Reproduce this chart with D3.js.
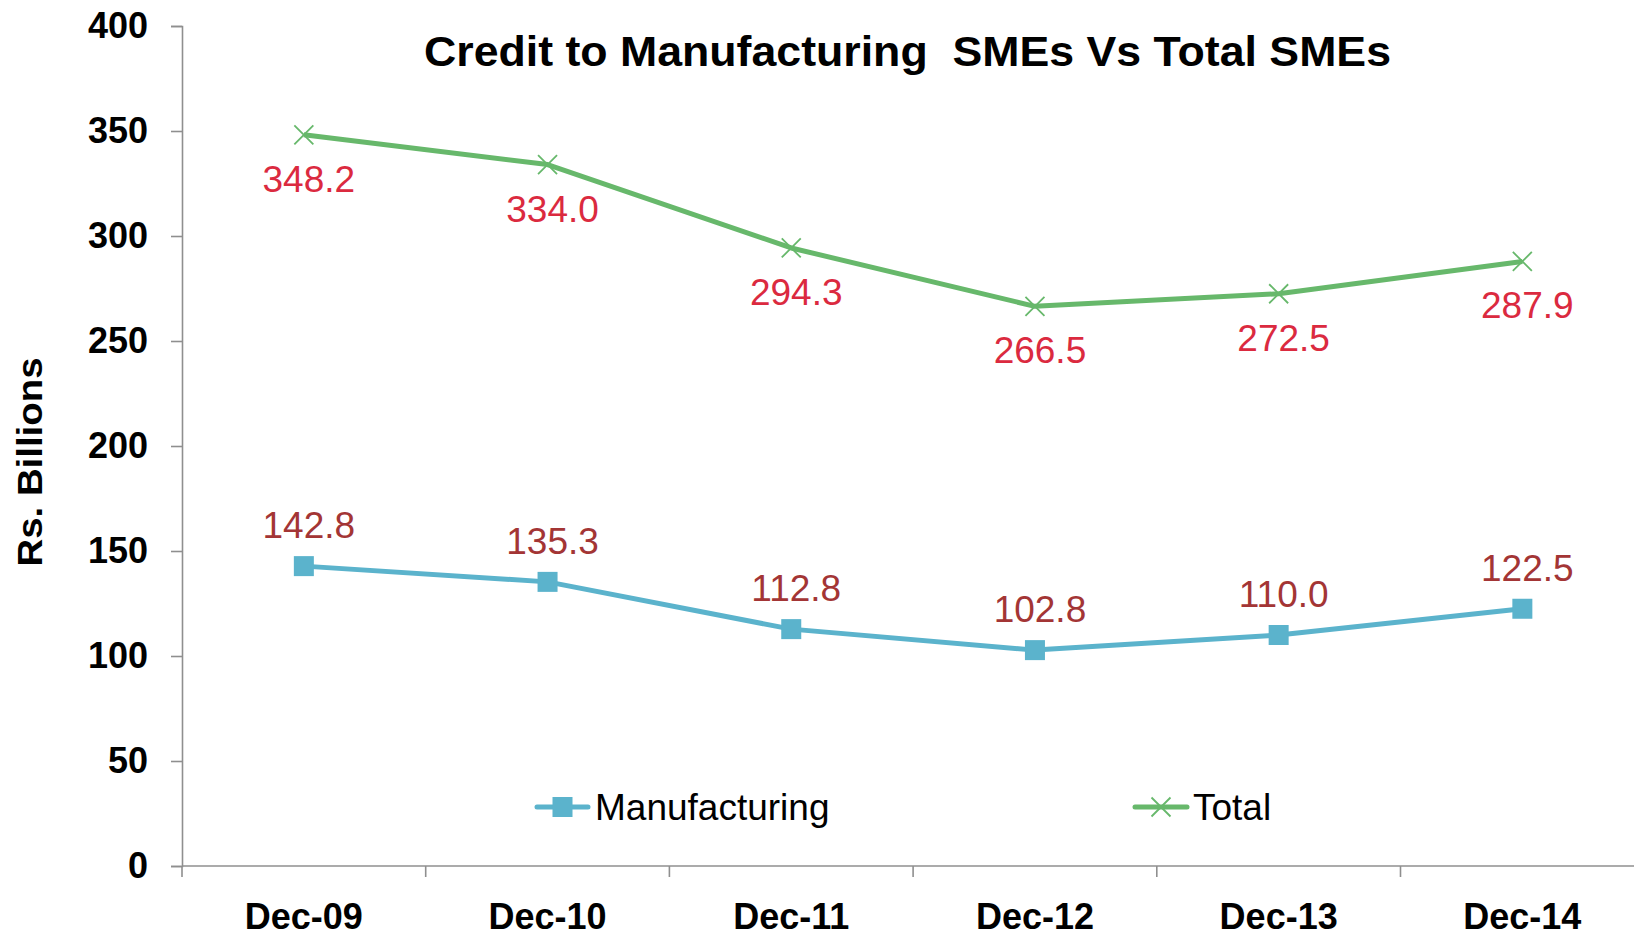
<!DOCTYPE html>
<html>
<head>
<meta charset="utf-8">
<script src="https://cdn.jsdelivr.net/npm/d3@7"></script>
<style>
  html, body { margin: 0; padding: 0; background: #fff; }
  svg { display: block; font-family: "Liberation Sans", Arial, sans-serif; }
</style>
</head>
<body>
<svg id="chart" width="1634" height="937"></svg>
<script>
const categories = ["Dec-09", "Dec-10", "Dec-11", "Dec-12", "Dec-13", "Dec-14"];
const manufacturing = [142.8, 135.3, 112.8, 102.8, 110.0, 122.5];
const total = [348.2, 334.0, 294.3, 266.5, 272.5, 287.9];
const yTicks = [0, 50, 100, 150, 200, 250, 300, 350, 400];
const seriesNames = ["Manufacturing", "Total"];
const titleText = "Credit to Manufacturing  SMEs Vs Total SMEs";
const yAxisTitle = "Rs. Billions";

const svg = d3.select("#chart");
const axisColor = "#8f8f8f";
const manColor = "#5bb3cc";
const totColor = "#67b86b";
const manLabelColor = "#a33535";
const totLabelColor = "#db2a3f";

const x = d3.scaleBand().domain(categories).range([182, 182 + 6 * 243.7]).padding(0);
const y = d3.scaleLinear().domain([0, 400]).range([866, 26]);
const cx = c => x(c) + x.bandwidth() / 2;

// Y axis
const yAxis = d3.axisLeft(y).tickValues(yTicks).tickSize(11).tickPadding(23).tickFormat(d3.format("d"));
const gy = svg.append("g").attr("transform", "translate(182,0)").call(yAxis);
gy.select(".domain").attr("stroke", axisColor).attr("stroke-width", 1.6);
gy.selectAll(".tick line").attr("stroke", axisColor).attr("stroke-width", 1.6);
gy.selectAll(".tick text").attr("font-size", 36).attr("font-weight", "bold").attr("fill", "#000")
  .attr("font-family", "Liberation Sans, Arial, sans-serif");

// X axis line and boundary ticks
svg.append("line").attr("x1", 182).attr("x2", 1634).attr("y1", y(0)).attr("y2", y(0))
  .attr("stroke", axisColor).attr("stroke-width", 1.6);
const bounds = categories.map(c => x(c)).concat([x.range()[1]]);
svg.selectAll(".xtick").data(bounds).enter().append("line")
  .attr("x1", d => d).attr("x2", d => d).attr("y1", y(0)).attr("y2", y(0) + 11)
  .attr("stroke", axisColor).attr("stroke-width", 1.6);
svg.selectAll(".xlabel").data(categories).enter().append("text")
  .attr("x", d => cx(d)).attr("y", 929).attr("text-anchor", "middle")
  .attr("font-size", 36).attr("font-weight", "bold").attr("fill", "#000").text(d => d);

// Y axis title
svg.append("text").attr("transform", "translate(42,462) rotate(-90)")
  .attr("text-anchor", "middle").attr("font-size", 35).attr("font-weight", "bold")
  .attr("textLength", 209).attr("lengthAdjust", "spacingAndGlyphs").text(yAxisTitle);

// Title
svg.append("text").attr("x", 424).attr("y", 66).attr("font-size", 42).attr("font-weight", "bold")
  .attr("textLength", 967).attr("lengthAdjust", "spacingAndGlyphs")
  .style("white-space", "pre").attr("xml:space", "preserve").text(titleText);

const line = d3.line().x((d, i) => cx(categories[i])).y(d => y(d));

// Total series
svg.append("path").datum(total).attr("d", line).attr("fill", "none")
  .attr("stroke", totColor).attr("stroke-width", 5).attr("stroke-linejoin", "round");
const xm = 9.5;
const drawX = (g, px, py) => {
  g.append("path").attr("d", `M${px - xm},${py - xm}L${px + xm},${py + xm}M${px - xm},${py + xm}L${px + xm},${py - xm}`)
    .attr("stroke", totColor).attr("stroke-width", 1.8).attr("fill", "none");
};
const gt = svg.append("g");
total.forEach((v, i) => drawX(gt, cx(categories[i]), y(v)));
svg.selectAll(".tlabel").data(total).enter().append("text")
  .attr("x", (d, i) => cx(categories[i]) + 5).attr("y", d => y(d) + 57)
  .attr("text-anchor", "middle").attr("font-size", 37).attr("fill", totLabelColor)
  .text(d => d.toFixed(1));

// Manufacturing series
svg.append("path").datum(manufacturing).attr("d", line).attr("fill", "none")
  .attr("stroke", manColor).attr("stroke-width", 5).attr("stroke-linejoin", "round");
const sq = 20;
svg.selectAll(".msq").data(manufacturing).enter().append("rect")
  .attr("x", (d, i) => cx(categories[i]) - sq / 2).attr("y", d => y(d) - sq / 2)
  .attr("width", sq).attr("height", sq).attr("fill", manColor);
svg.selectAll(".mlabel").data(manufacturing).enter().append("text")
  .attr("x", (d, i) => cx(categories[i]) + 5).attr("y", d => y(d) - 28)
  .attr("text-anchor", "middle").attr("font-size", 37).attr("fill", manLabelColor)
  .text(d => d.toFixed(1));

// Legend
const ly = 807;
const lg = svg.append("g");
lg.append("line").attr("x1", 537).attr("x2", 588).attr("y1", ly).attr("y2", ly)
  .attr("stroke", manColor).attr("stroke-width", 5).attr("stroke-linecap", "round");
lg.append("rect").attr("x", 562.5 - sq / 2).attr("y", ly - sq / 2).attr("width", sq).attr("height", sq).attr("fill", manColor);
lg.append("text").attr("x", 595).attr("y", 820).attr("font-size", 37).attr("fill", "#000").text(seriesNames[0]);
lg.append("line").attr("x1", 1135).attr("x2", 1187).attr("y1", ly).attr("y2", ly)
  .attr("stroke", totColor).attr("stroke-width", 5).attr("stroke-linecap", "round");
drawX(lg, 1161, ly);
lg.append("text").attr("x", 1193).attr("y", 820).attr("font-size", 37).attr("fill", "#000").text(seriesNames[1]);
</script>
</body>
</html>
